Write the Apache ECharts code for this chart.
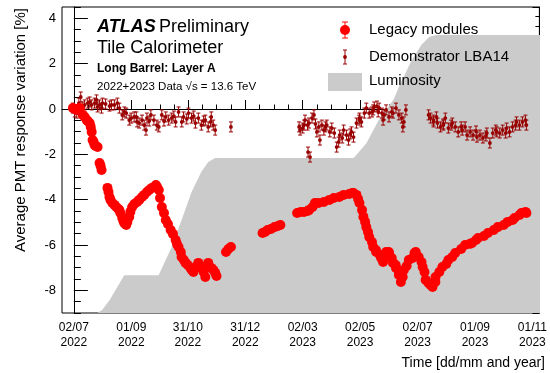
<!DOCTYPE html>
<html>
<head>
<meta charset="utf-8">
<script src="https://cdn.jsdelivr.net/npm/echarts@6/dist/echarts.min.js"></script>
<style>
  html, body { margin: 0; padding: 0; background: #fff; }
  #chart { width: 550px; height: 373px; }
</style>
</head>
<body>
<div id="chart"></div>
<script>
// Time is counted in days since 02/07/2022.
const xTickDays = [0, 61, 121, 182, 243, 304, 365, 426, 487];
const xTickLabels = ['02/07\n2022', '01/09\n2022', '31/10\n2022', '31/12\n2022', '02/03\n2023',
                     '02/05\n2023', '02/07\n2023', '01/09\n2023', '01/11\n2023'];
const yTickValues = [-8, -6, -4, -2, 0, 2, 4];

// Legacy modules: average response variation [%]
const legacyDays = [-1.0, 1.1, 3.1, 6.3, 9.4, 11.6, 13.6, 14.7, 16.8, 17.9, 18.9, 19.9, 21.0, 22.0, 23.1,
  25.2, 27.3, 28.4, 29.4, 35.7, 36.8, 37.8, 38.9, 40.9, 43.1, 45.1, 47.3, 48.3, 49.4, 51.4, 52.6, 53.5,
  54.7, 55.6, 56.8, 58.8, 60.0, 61.9, 64.2, 67.2, 69.4, 72.4, 74.7, 77.6, 80.0, 82.9, 85.2, 87.1, 88.4,
  90.2, 91.5, 93.4, 95.7, 97.6, 99.9, 102.8, 105.2, 108.1, 109.4, 111.2, 113.6, 114.4, 116.8, 118.6,
  121.0, 123.8, 125.2, 127.0, 130.4, 132.2, 133.6, 135.4, 137.8, 139.6, 142.0, 142.7, 145.9, 148.3,
  150.1, 151.5, 161.6, 164.1, 166.8,
  200.4, 203.0, 205.7, 209.3, 213.0, 216.7, 219.3, 237.1, 240.9, 244.5, 248.2, 249.7, 253.5, 256.0,
  259.8, 265.5, 271.4, 276.0, 281.9, 286.5, 292.4, 295.6, 297.0, 300.1, 301.9, 303.3, 306.1, 307.5,
  309.3, 310.6, 312.4, 313.7, 316.6, 317.9, 320.8, 321.1, 325.0, 326.3, 328.4, 331.3, 331.6, 334.5,
  334.7, 337.6, 338.9, 341.8, 342.1, 345.0, 345.2, 347.3, 349.2, 350.5, 353.4, 355.7, 359.7, 361.8,
  363.1, 366.2, 369.2, 370.4, 372.4, 373.6, 376.6, 378.8, 380.9, 383.9, 384.1, 388.1, 391.4, 395.5,
  397.7, 401.8, 405.0, 411.3, 415.5, 420.7, 422.9, 427.1, 429.2, 435.5, 439.7, 446.0, 450.2, 456.5,
  460.7, 466.0, 468.0, 473.3, 475.3, 479.6, 480.6];
const legacyValues = [0.04, 0.00, -0.04, 0.04, -0.26, -0.35, -0.49, -0.53, -0.62, -0.79, -1.01, -1.37, -1.46, -1.59, -1.63,
  -1.68, -2.38, -2.51, -2.69, -3.48, -3.66, -3.88, -4.01, -4.15, -4.23, -4.32, -4.41, -4.46, -4.59, -4.81, -4.94, -5.03,
  -5.07, -5.12, -4.98, -4.76, -4.54, -4.32, -4.19, -4.10, -4.01, -3.88, -3.79, -3.66, -3.57, -3.48, -3.44, -3.35, -3.44,
  -3.57, -3.93, -4.32, -4.59, -4.90, -5.07, -5.34, -5.51, -5.78, -5.95, -6.09, -6.31, -6.53, -6.66, -6.79,
  -6.88, -7.01, -7.10, -7.19, -6.93, -6.79, -6.88, -7.01, -7.19, -7.41, -6.93, -6.79, -7.01, -7.10,
  -7.23, -7.37, -6.31, -6.18, -6.09,
  -5.47, -5.43, -5.34, -5.29, -5.21, -5.16, -5.12, -4.59, -4.54, -4.54, -4.50, -4.46, -4.32, -4.15,
  -4.15, -4.10, -4.01, -3.93, -3.88, -3.79, -3.75, -3.71, -3.71, -3.79, -3.97, -4.15, -4.46, -4.76,
  -4.98, -5.21, -5.43, -5.65, -5.87, -6.09, -6.22, -6.31, -6.44, -6.57, -6.75, -6.48, -6.31, -6.31,
  -6.35, -6.57, -6.79, -6.88, -7.01, -7.15, -7.32, -7.63, -7.41, -7.10, -6.93, -6.66, -6.57, -6.35,
  -6.31, -6.53, -6.75, -6.97, -7.19, -7.54, -7.68, -7.76, -7.85, -7.63, -7.41, -7.19, -6.97, -6.84,
  -6.66, -6.53, -6.35, -6.18, -6.00, -5.95, -5.91, -5.78, -5.69, -5.60, -5.47, -5.34, -5.21, -5.12,
  -4.98, -4.90, -4.81, -4.68, -4.59, -4.54, -4.59];

// Demonstrator LBA14: average response variation [%]
const demoDays = [-1.0, 1.0, 3.1, 5.3, 7.3, 9.5, 11.5, 14.7, 16.8, 18.9, 22.0, 24.1, 25.2, 27.3, 29.4, 30.4,
  33.7, 37.9, 39.9, 43.0, 46.2, 48.3, 51.4, 53.6, 55.6, 58.8, 60.9, 64.0, 66.3, 67.2, 69.3, 72.4, 74.7,
  76.6, 77.6, 80.0, 81.8, 85.0, 88.1, 90.2, 93.4, 95.7, 97.6, 100.7, 103.9, 106.2, 108.1, 111.2, 114.6,
  116.5, 119.9, 121.7, 124.9, 127.3, 129.1, 132.2, 135.4, 137.8, 139.6, 142.7, 145.2, 145.9, 148.0,
  150.1, 166.8,
  239.2, 240.3, 243.0, 244.5, 245.5, 248.2, 248.7, 249.7, 250.8, 252.9, 255.0, 256.6, 258.1, 260.2,
  261.3, 263.4, 265.5, 267.2, 268.6, 271.8, 273.9, 276.6, 279.1, 281.2, 282.3, 285.0, 286.5, 289.6,
  291.7, 293.5, 294.9, 297.0, 300.1, 303.0, 303.3, 305.4, 308.5, 310.6, 313.7, 316.6, 317.9, 319.0,
  321.9, 323.2, 324.2, 327.2, 328.4, 329.5, 331.6, 334.7, 337.6, 338.9, 342.1, 345.2, 348.2, 349.4,
  350.5, 352.6,
  376.7, 378.8, 381.8, 382.0, 385.0, 386.2, 389.3, 392.3, 392.4, 394.5, 397.7, 400.7, 401.9, 405.0,
  408.2, 411.3, 412.4, 415.5, 417.6, 420.8, 423.9, 427.1, 428.1, 431.3, 434.4, 437.6, 438.6, 441.8,
  444.9, 448.1, 449.1, 452.3, 455.4, 458.6, 459.6, 462.7, 465.9, 469.1, 470.1, 473.2, 476.4, 479.6,
  480.6];
const demoValues = [0.04, -0.13, -0.18, 0.26, 0.53, 0.09, 0.18, 0.26, 0.31, 0.18, 0.26, 0.40, 0.09, 0.18, 0.04, 0.26,
  0.22, 0.13, 0.18, 0.18, 0.26, 0.04, -0.26, -0.13, -0.18, -0.49, -0.40, -0.35, -0.35, -0.57, -0.62, -0.49, -0.71,
  -0.93, -0.40, -0.53, -0.26, -0.49, -0.71, -0.79, -0.26, -0.53, -0.35, -0.49, -0.40, -0.31, -0.57, -0.13, -0.57,
  -0.35, -0.44, -0.18, -0.40, -0.31, -0.62, -0.40, -0.71, -0.53, -0.49, -0.79, -0.57, -0.35, -0.71,
  -0.93, -0.79,
  -0.79, -0.93, -0.84, -0.71, -0.49, -0.71, -1.90, -0.62, -2.12, -0.40, -0.26, -0.66, -1.01, -0.79,
  -1.37, -0.71, -0.93, -0.79, -0.71, -1.01, -0.84, -1.06, -1.68, -1.46, -1.15, -1.28, -0.93, -1.15,
  -1.37, -1.10, -1.01, -1.24, -0.62, -0.49, -0.40, -0.57, -0.18, 0.04, -0.18, -0.13, -0.04, 0.09,
  0.13, -0.13, 0.04, -0.18, -0.49, -0.26, -0.04, -0.35, -0.13, -0.18, 0.04, -0.26, -0.40, -0.79,
  -0.57, -0.04,
  -0.26, -0.40, -0.49, -0.57, -0.35, -0.62, -0.79, -0.66, -0.71, -0.40, -0.84, -0.71, -0.62, -0.79,
  -1.01, -0.79, -0.93, -0.79, -1.15, -1.01, -1.15, -0.97, -1.24, -1.15, -1.28, -1.19, -1.06, -1.50,
  -1.06, -0.93, -1.01, -1.06, -0.93, -1.06, -0.84, -1.01, -0.79, -0.71, -0.57, -0.71, -0.57, -0.49,
  -0.71];
const demoError = 0.22;

// Integrated luminosity [fb^-1] on the right-hand axis
const lumiDays = [0, 25, 30, 38, 53.5, 90, 104, 114.4, 124.9, 135.4, 142.7, 150, 297, 300, 310.6,
  324, 339.7, 346.1, 351.3, 358.7, 369.2, 377.6, 385, 500];
const lumiValues = [0, 0, 0.8, 3.4, 9.9, 9.9, 17.3, 24.3, 31.6, 36.9, 39.5, 40.5, 40.5, 41.3, 44.4,
  50.5, 55.9, 59.6, 62.2, 66.1, 70.1, 72.2, 72.7, 72.7];

const FONT = '"Liberation Sans", Arial, Helvetica, sans-serif';
const LEGACY_COLOR = '#ff0000';
const DEMO_COLOR = '#990000';
const LUMI_COLOR = '#cbcbcb';

const X_MIN = -12.6, X_MAX = 494.4;

// quarter-step minor ticks between the labelled dates
const xMinorTicks = [];
for (let i = 0; i < xTickDays.length; i++) {
  const step = 61 / 4;
  for (let k = -3; k <= 3; k++) {
    if (k === 0) continue;
    const v = xTickDays[i] + k * step;
    if (v > X_MIN && v < X_MAX && !xMinorTicks.some(t => Math.abs(t - v) < 2)) xMinorTicks.push(v);
  }
}
const yMinorTicks = [];
for (let v = -9; v <= 4.5; v += 0.5) if (!yTickValues.includes(v)) yMinorTicks.push(v);

const legacyData = legacyDays.map((d, i) => [d, legacyValues[i]]);
const demoData = demoDays.map((d, i) => [d, demoValues[i]]);
const lumiData = lumiDays.map((d, i) => [d, lumiValues[i]]);

function errorBarItem(params, api) {
  const x = api.value(0), y = api.value(1);
  const c = api.coord([x, y]);
  const hi = api.coord([x, y + demoError]);
  const lo = api.coord([x, y - demoError]);
  const st = { stroke: DEMO_COLOR, lineWidth: 1 };
  return {
    type: 'group',
    children: [
      { type: 'line', shape: { x1: c[0], y1: hi[1], x2: c[0], y2: lo[1] }, style: st },
      { type: 'line', shape: { x1: c[0] - 2, y1: hi[1], x2: c[0] + 2, y2: hi[1] }, style: st },
      { type: 'line', shape: { x1: c[0] - 2, y1: lo[1], x2: c[0] + 2, y2: lo[1] }, style: st },
      { type: 'circle', shape: { cx: c[0], cy: c[1], r: 1.9 }, style: { fill: DEMO_COLOR } }
    ]
  };
}

const chart = echarts.init(document.getElementById('chart'), null, { renderer: 'canvas' });

const axisLineStyle = { color: '#000', width: 1 };

// legend and text annotations drawn on top of the plot
const overlay = [
  {
    type: 'text', x: 21, y: 8, rotation: Math.PI / 2,
    style: { text: 'Average PMT response variation [%]', font: '15px ' + FONT, fill: '#000', align: 'right', verticalAlign: 'middle' }
  },
  {
    type: 'text', x: 545, y: 363,
    style: { text: 'Time [dd/mm and year]', font: '14px ' + FONT, fill: '#000', align: 'right', verticalAlign: 'middle' }
  },
  {
    type: 'text', x: 97, y: 27,
    style: {
      text: '{a|ATLAS} {b|Preliminary}', verticalAlign: 'middle',
      rich: {
        a: { fontFamily: FONT, fontSize: 18, fontWeight: 'bold', fontStyle: 'italic', fill: '#000' },
        b: { fontFamily: FONT, fontSize: 18, fill: '#000' }
      }
    }
  },
  { type: 'text', x: 97, y: 48, style: { text: 'Tile Calorimeter', font: '18px ' + FONT, fill: '#000', verticalAlign: 'middle' } },
  { type: 'text', x: 97, y: 69, style: { text: 'Long Barrel: Layer A', font: 'bold 12px ' + FONT, fill: '#000', verticalAlign: 'middle' } },
  { type: 'text', x: 97, y: 87, style: { text: '2022+2023 Data √s = 13.6 TeV', font: '11.5px ' + FONT, fill: '#000', verticalAlign: 'middle' } },
  { type: 'line', shape: { x1: 345, y1: 22, x2: 345, y2: 38 }, style: { stroke: LEGACY_COLOR, lineWidth: 1 } },
  { type: 'line', shape: { x1: 342, y1: 22, x2: 348, y2: 22 }, style: { stroke: LEGACY_COLOR, lineWidth: 1 } },
  { type: 'line', shape: { x1: 342, y1: 38, x2: 348, y2: 38 }, style: { stroke: LEGACY_COLOR, lineWidth: 1 } },
  { type: 'circle', shape: { cx: 345, cy: 30, r: 5 }, style: { fill: LEGACY_COLOR } },
  { type: 'text', x: 369, y: 30, style: { text: 'Legacy modules', font: '15px ' + FONT, fill: '#000', verticalAlign: 'middle' } },
  { type: 'line', shape: { x1: 345, y1: 50, x2: 345, y2: 64 }, style: { stroke: DEMO_COLOR, lineWidth: 1 } },
  { type: 'line', shape: { x1: 343, y1: 50, x2: 347, y2: 50 }, style: { stroke: DEMO_COLOR, lineWidth: 1 } },
  { type: 'line', shape: { x1: 343, y1: 64, x2: 347, y2: 64 }, style: { stroke: DEMO_COLOR, lineWidth: 1 } },
  { type: 'circle', shape: { cx: 345, cy: 57, r: 1.9 }, style: { fill: DEMO_COLOR } },
  { type: 'text', x: 369, y: 57, style: { text: 'Demonstrator LBA14', font: '15px ' + FONT, fill: '#000', verticalAlign: 'middle' } },
  { type: 'rect', shape: { x: 328, y: 73, width: 34, height: 18 }, style: { fill: LUMI_COLOR } },
  { type: 'text', x: 369, y: 81, style: { text: 'Luminosity', font: '15px ' + FONT, fill: '#000', verticalAlign: 'middle' } }
].map(el => Object.assign({ z: 100 }, el));

chart.setOption({
  animation: false,
  backgroundColor: '#fff',
  textStyle: { fontFamily: FONT },
  grid: { left: 62, right: 6, top: 7, bottom: 60, show: true, borderColor: '#000', borderWidth: 1, backgroundColor: 'transparent' },
  xAxis: [
    {
      type: 'value', min: X_MIN, max: X_MAX,
      axisLine: { show: true, lineStyle: axisLineStyle },
      splitLine: { show: false },
      axisTick: { show: true, inside: true, length: 9, customValues: xTickDays, lineStyle: axisLineStyle },
      axisLabel: {
        show: true, customValues: xTickDays, margin: 7,
        fontFamily: FONT, fontSize: 12, color: '#000', lineHeight: 15,
        formatter: (v) => xTickLabels[xTickDays.indexOf(v)] || ''
      }
    },
    {
      type: 'value', min: X_MIN, max: X_MAX, position: 'bottom',
      axisLine: { show: false },
      splitLine: { show: false },
      axisTick: { show: true, inside: true, length: 4.5, customValues: xMinorTicks, lineStyle: axisLineStyle },
      axisLabel: { show: false }
    }
  ],
  yAxis: [
    {
      type: 'value', min: -9, max: 4.5, position: 'left',
      axisLine: { show: true, lineStyle: axisLineStyle },
      splitLine: { show: false },
      axisTick: { show: true, inside: true, length: 14, customValues: yTickValues, lineStyle: axisLineStyle },
      axisLabel: {
        show: true, customValues: yTickValues, margin: 6,
        fontFamily: FONT, fontSize: 13, color: '#000'
      }
    },
    {
      type: 'value', min: -9, max: 4.5, position: 'left',
      axisLine: { show: false },
      splitLine: { show: false },
      axisTick: { show: true, inside: true, length: 7, customValues: yMinorTicks, lineStyle: axisLineStyle },
      axisLabel: { show: false }
    },
    {
      type: 'value', min: 0, max: 80, interval: 10, position: 'right',
      axisLine: { show: true, lineStyle: axisLineStyle },
      splitLine: { show: false },
      axisTick: { show: true, inside: true, length: 7, lineStyle: axisLineStyle },
      minorTick: { show: true, splitNumber: 4, length: 4, lineStyle: axisLineStyle },
      axisLabel: { show: false }
    }
  ],
  series: [
    {
      name: 'Luminosity', type: 'line', xAxisIndex: 0, yAxisIndex: 2,
      data: lumiData, symbol: 'none', silent: true, z: 1,
      lineStyle: { width: 0 },
      areaStyle: { color: LUMI_COLOR, opacity: 1 }
    },
    {
      name: 'Demonstrator LBA14', type: 'custom', xAxisIndex: 0, yAxisIndex: 0,
      data: demoData, renderItem: errorBarItem, z: 3
    },
    {
      name: 'Legacy modules', type: 'scatter', xAxisIndex: 0, yAxisIndex: 0,
      data: legacyData, symbol: 'circle', symbolSize: 10,
      itemStyle: { color: LEGACY_COLOR, opacity: 1 }, z: 4
    }
  ],
  graphic: overlay
});
</script>
</body>
</html>
